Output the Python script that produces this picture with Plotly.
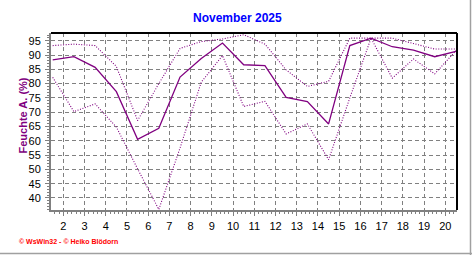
import plotly.graph_objects as go

# Data: relative humidity, November 2025 (days 1..20)
days = list(range(1, 21))
hum_mean = [88.3, 89.4, 85.7, 77.2, 60.5, 64.4, 82.3, 88.8, 94.2, 86.6,
            86.3, 75.2, 73.7, 65.9, 93.3, 95.9, 92.9, 91.7, 89.4, 91.3]
hum_max = [93.3, 93.8, 93.3, 86.0, 67.1, 80.0, 92.3, 94.7, 95.6, 97.1,
           93.8, 84.8, 79.0, 80.8, 95.9, 95.9, 95.9, 94.0, 92.1, 92.1]
hum_min = [82.2, 70.2, 72.9, 64.8, 50.2, 36.0, 57.5, 80.5, 89.8, 72.0,
           73.8, 62.4, 65.9, 53.4, 75.0, 95.9, 81.9, 88.6, 83.4, 91.5]
x_ticks = list(range(2, 21))
y_ticks = list(range(40, 100, 5))

title_text = "November 2025"
y_title = "Feuchte A. (%)"
credit = "© WsWin32 - © Heiko Blödorn"

xpos = [d + 0.5 for d in days]
PURPLE = "#800080"
GRAY = "#808080"
FONT = "Liberation Sans"

fig = go.Figure()
fig.add_trace(go.Scatter(x=xpos, y=hum_max, mode="lines",
                         line=dict(color=PURPLE, width=1.1, dash="1px,1.6px")))
fig.add_trace(go.Scatter(x=xpos, y=hum_min, mode="lines",
                         line=dict(color=PURPLE, width=1.1, dash="1px,1.6px")))
fig.add_trace(go.Scatter(x=xpos, y=hum_mean, mode="lines",
                         line=dict(color=PURPLE, width=1.3)))

W, H = 472, 255
L, R, T, B = 51, 457, 33, 210


def px_x(px):
    return (px - L) / (R - L)


def px_y(py):
    return (B - py) / (B - T)


fig.update_layout(
    width=W, height=H,
    margin=dict(l=L, r=W - R, t=T, b=H - B),
    paper_bgcolor="white", plot_bgcolor="white",
    showlegend=False,
    font=dict(family=FONT, size=11, color="black"),
    xaxis=dict(range=[1.42, 20.55], tickvals=x_ticks,
               showgrid=True, gridcolor=GRAY, gridwidth=1, griddash="4px,3px",
               showline=True, linecolor=GRAY, linewidth=2,
               ticks="outside", ticklen=4, tickcolor=GRAY, tickwidth=1,
               ticklabelstandoff=1,
               minor=dict(dtick=0.2, ticks="outside", ticklen=2, tickcolor=GRAY,
                          showgrid=False),
               zeroline=False, fixedrange=True),
    yaxis=dict(range=[35.8, 97.7], tickvals=y_ticks,
               showgrid=True, gridcolor=GRAY, gridwidth=1, griddash="4px,3px",
               showline=True, linecolor=GRAY, linewidth=2,
               ticks="outside", ticklen=4, tickcolor=GRAY, tickwidth=1,
               ticklabelstandoff=2,
               minor=dict(dtick=1, ticks="outside", ticklen=2, tickcolor=GRAY,
                          showgrid=False),
               zeroline=False, fixedrange=True),
)

# top and right black frame, outer gray border (right, bottom)
fig.add_shape(type="line", xref="paper", yref="paper", x0=0, x1=1, y0=1, y1=1,
              line=dict(color="black", width=2))
fig.add_shape(type="line", xref="paper", yref="paper", x0=1, x1=1, y0=0, y1=1,
              line=dict(color="black", width=2))
fig.add_shape(type="line", xref="paper", yref="paper",
              x0=px_x(0), x1=px_x(W), y0=px_y(253.5), y1=px_y(253.5),
              line=dict(color="#a0a0a0", width=1.5))
fig.add_shape(type="line", xref="paper", yref="paper",
              x0=px_x(470.5), x1=px_x(470.5), y0=px_y(0), y1=px_y(H),
              line=dict(color="#a0a0a0", width=1.5))

fig.add_annotation(text="<b>" + title_text + "</b>", xref="paper", yref="paper",
                   x=px_x(237.5), y=px_y(18.5), showarrow=False,
                   xanchor="center", yanchor="middle",
                   font=dict(family=FONT, size=12, color="#0000ff"))
fig.add_annotation(text="<b>" + y_title + "</b>", xref="paper", yref="paper",
                   x=px_x(22.5), y=px_y(116), showarrow=False, textangle=-90,
                   xanchor="center", yanchor="middle",
                   font=dict(family=FONT, size=11, color=PURPLE))
fig.add_annotation(text="<b>" + credit + "</b>", xref="paper", yref="paper",
                   x=px_x(17), y=px_y(241), showarrow=False,
                   xanchor="left", yanchor="middle",
                   font=dict(family=FONT, size=7, color="#ff0000"))

fig.write_html("out.html")
